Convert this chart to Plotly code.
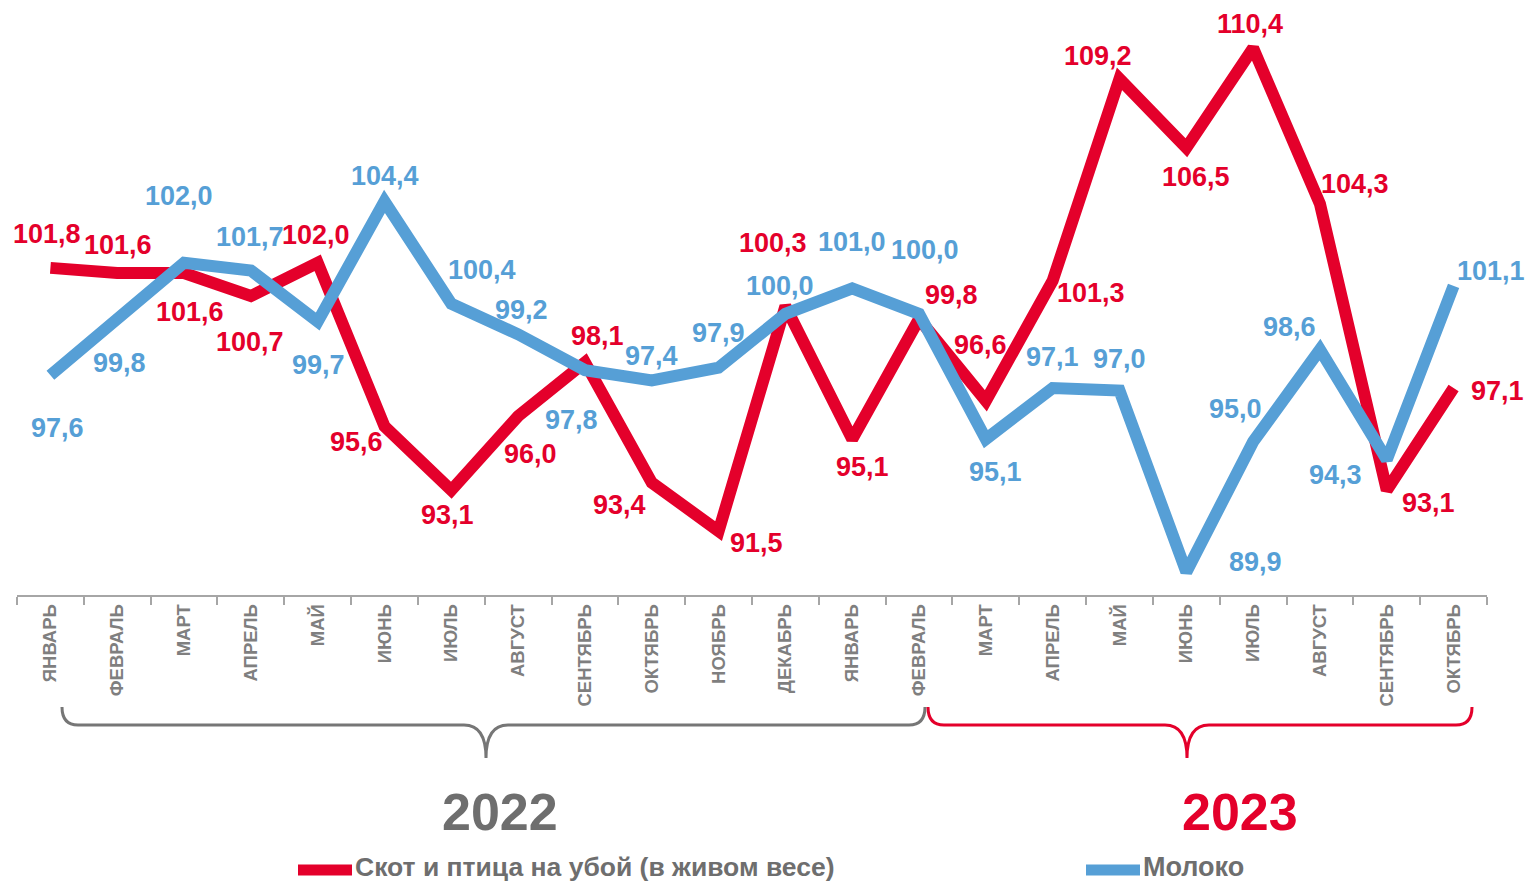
import plotly.graph_objects as go

months = ["ЯНВАРЬ", "ФЕВРАЛЬ", "МАРТ", "АПРЕЛЬ", "МАЙ", "ИЮНЬ", "ИЮЛЬ", "АВГУСТ",
          "СЕНТЯБРЬ", "ОКТЯБРЬ", "НОЯБРЬ", "ДЕКАБРЬ", "ЯНВАРЬ", "ФЕВРАЛЬ", "МАРТ",
          "АПРЕЛЬ", "МАЙ", "ИЮНЬ", "ИЮЛЬ", "АВГУСТ", "СЕНТЯБРЬ", "ОКТЯБРЬ"]
livestock = [101.8, 101.6, 101.6, 100.7, 102.0, 95.6, 93.1, 96.0, 98.1, 93.4, 91.5,
             100.3, 95.1, 99.8, 96.6, 101.3, 109.2, 106.5, 110.4, 104.3, 93.1, 97.1]
milk = [97.6, 99.8, 102.0, 101.7, 99.7, 104.4, 100.4, 99.2, 97.8, 97.4, 97.9,
        100.0, 101.0, 100.0, 95.1, 97.1, 97.0, 89.9, 95.0, 98.6, 94.3, 101.1]
series_names = ["Скот и птица на убой (в живом весе)", "Молоко"]
years = ["2022", "2023"]

# label offsets in pixels (dx right, dy down)
red_off = [(-3, -34), (1, -28), (6, 39), (-1, 46), (-2, -28), (-28, 16), (-4, 25), (12, 38),
           (13, -26), (-32, 22), (38, 12), (-12, -63), (10, 28), (32, -24), (-5, -56), (38, 12),
           (-22, -23), (10, 29), (-3, -24), (35, -20), (42, 13), (44, 3)]
blue_off = [(7, 53), (2, 44), (-5, -67), (-1, -33), (1, 43), (0, -25), (31, -34), (3, -24),
            (-13, 50), (0, -24), (0, -35), (-5, -28), (0, -46), (6, -64), (10, 33), (0, -31),
            (0, -32), (69, -10), (-18, -33), (-30, -23), (-51, 15), (37, -15)]

RED = "#E4002B"
BLUE = "#569FD6"
GRAY = "#6E6E6E"
FONT = "Liberation Sans, Arial, sans-serif"

W, H = 1529, 885
L, R, T, B = 17, 1487, 20, 595


def px(x):
    return (x - L) / (R - L)


def py(y):
    return (B - y) / (B - T)


xs = list(range(len(months)))

fig = go.Figure()
fig.add_trace(go.Scatter(x=xs, y=livestock, mode="lines", name=series_names[0],
                         line=dict(color=RED, width=12), showlegend=False))
fig.add_trace(go.Scatter(x=xs, y=milk, mode="lines", name=series_names[1],
                         line=dict(color=BLUE, width=12), showlegend=False))

fmt = lambda v: f"{v:.1f}".replace(".", ",")
ann = []
for i, v in enumerate(livestock):
    dx, dy = red_off[i]
    ann.append(dict(x=i, y=v, xref="x", yref="y", text=f"<b>{fmt(v)}</b>", showarrow=False,
                    xanchor="center", yanchor="middle",
                    xshift=dx, yshift=-dy, font=dict(family=FONT, size=27, color=RED)))
for i, v in enumerate(milk):
    dx, dy = blue_off[i]
    ann.append(dict(x=i, y=v, xref="x", yref="y", text=f"<b>{fmt(v)}</b>", showarrow=False,
                    xanchor="center", yanchor="middle",
                    xshift=dx, yshift=-dy, font=dict(family=FONT, size=27, color=BLUE)))

# year labels
ann.append(dict(x=px(500), y=py(812), xref="paper", yref="paper", text=f"<b>{years[0]}</b>",
                showarrow=False, xanchor="center", yanchor="middle",
                font=dict(family=FONT, size=52, color=GRAY)))
ann.append(dict(x=px(1240), y=py(812), xref="paper", yref="paper", text=f"<b>{years[1]}</b>",
                showarrow=False, xanchor="center", yanchor="middle",
                font=dict(family=FONT, size=52, color=RED)))
# legend texts
ann.append(dict(x=px(354), y=py(867), xref="paper", yref="paper", text=f"<b>{series_names[0]}</b>",
                showarrow=False, xanchor="left", yanchor="middle", borderpad=0,
                font=dict(family=FONT, size=26.5, color=GRAY)))
ann.append(dict(x=px(1142), y=py(867), xref="paper", yref="paper", text=f"<b>{series_names[1]}</b>",
                showarrow=False, xanchor="left", yanchor="middle", borderpad=0,
                font=dict(family=FONT, size=27, color=GRAY)))


def brace(x0, x1, mid, color):
    top, hz, tip = 707, 725, 758
    pts = (f"M {px(x0)},{py(top)} Q {px(x0)},{py(hz)} {px(x0 + 16)},{py(hz)} "
           f"L {px(mid - 22)},{py(hz)} Q {px(mid)},{py(hz)} {px(mid)},{py(tip)} "
           f"Q {px(mid)},{py(hz)} {px(mid + 22)},{py(hz)} "
           f"L {px(x1 - 16)},{py(hz)} Q {px(x1)},{py(hz)} {px(x1)},{py(top)}")
    return dict(type="path", path=pts, xref="paper", yref="paper",
                line=dict(color=color, width=3))


shapes = [
    brace(62, 925, 486, "#767676"),
    brace(928, 1472, 1187, RED),
    dict(type="line", xref="paper", yref="paper", x0=px(298), x1=px(352), y0=py(870), y1=py(870),
         line=dict(color=RED, width=11)),
    dict(type="line", xref="paper", yref="paper", x0=px(1086), x1=px(1140), y0=py(870), y1=py(870),
         line=dict(color=BLUE, width=11)),
]

fig.update_layout(
    width=W, height=H,
    margin=dict(l=L, r=W - R, t=T, b=H - B),
    plot_bgcolor="white", paper_bgcolor="white",
    annotations=ann, shapes=shapes,
    font=dict(family=FONT),
)
fig.update_xaxes(range=[-0.5, len(months) - 0.5], tickmode="array", tickvals=xs,
                 ticktext=[f"<b>{m}</b>" for m in months], tickangle=-90,
                 tickfont=dict(family=FONT, size=18.5, color="#7F7F7F"),
                 ticks="", showline=True, linecolor="#A6A6A6", linewidth=1.5,
                 showgrid=False, zeroline=False,
                 minor=dict(tick0=-0.5, dtick=1, ticks="outside", ticklen=8,
                            tickcolor="#A6A6A6", tickwidth=1.5, showgrid=False))
fig.update_yaxes(range=[89.0, 111.5], visible=False, showgrid=False, zeroline=False)

fig.write_html("out.html", config={"displayModeBar": False},
               post_script="document.body.style.margin='0px';document.body.style.overflow='hidden';")
